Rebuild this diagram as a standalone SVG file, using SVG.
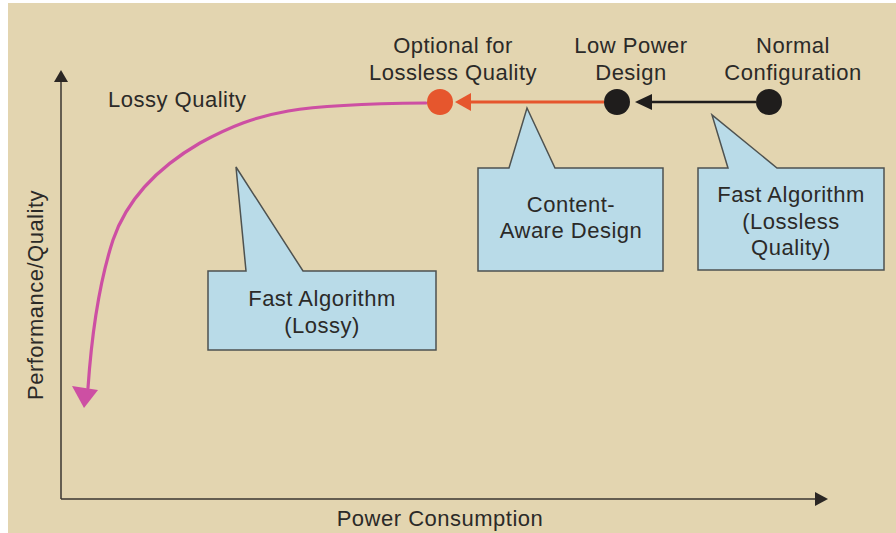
<svg xmlns="http://www.w3.org/2000/svg" width="896" height="533" viewBox="0 0 896 533">
  <style>
    text { font-family: "Liberation Sans", Arial, sans-serif; font-size: 22px; fill: #2b2a28; letter-spacing: 0.5px; }
    .mid { text-anchor: middle; }
    .callout { fill: #b9dbe8; stroke: #4e5250; stroke-width: 1.5; stroke-linejoin: miter; }
    .axis { stroke: #3a3530; stroke-width: 1.5; fill: none; }
  </style>

  <!-- page -->
  <rect x="0" y="0" width="896" height="533" fill="#ffffff"/>
  <rect x="8" y="3" width="888" height="530" fill="#e3d5b0"/>

  <!-- axes -->
  <g id="axes">
    <path class="axis" d="M61,499 L61,82"/>
    <path d="M54,82 L61,70 L68,82 Z" fill="#2b2724"/>
    <path class="axis" d="M61,499 L816,499"/>
    <path d="M815,492 L828,499 L815,506 Z" fill="#2b2724"/>
    <text class="mid" x="440" y="526">Power Consumption</text>
    <text class="mid" transform="translate(43,295) rotate(-90)">Performance/Quality</text>
  </g>

  <!-- connectors -->
  <g id="connectors">
    <!-- lossy quality curve -->
    <path d="M426,103 C300,104 260,110 200,143 C150,172 125,205 113,240 C100,280 92,330 88,388" fill="none" stroke="#cd4fa3" stroke-width="3.2" stroke-linecap="round"/>
    <path d="M72,386 L98,390 L84,408 Z" fill="#cd4fa3"/>
    <!-- content-aware step -->
    <line x1="604" y1="102" x2="469" y2="102" stroke="#e6562d" stroke-width="3"/>
    <path d="M471,93 L455,102 L471,111 Z" fill="#e6562d"/>
    <!-- fast lossless step -->
    <line x1="756" y1="102" x2="650" y2="102" stroke="#1f1d1c" stroke-width="2.5"/>
    <path d="M652,94 L635,102 L652,110 Z" fill="#1f1d1c"/>
  </g>

  <!-- operating points -->
  <g id="node-optional">
    <circle cx="440" cy="102" r="13" fill="#e6562d"/>
    <text class="mid" x="453" y="53">Optional for</text>
    <text class="mid" x="453" y="80">Lossless Quality</text>
  </g>
  <g id="node-lowpower">
    <circle cx="617" cy="102" r="13" fill="#1f1d1c"/>
    <text class="mid" x="631" y="53">Low Power</text>
    <text class="mid" x="631" y="80">Design</text>
  </g>
  <g id="node-normal">
    <circle cx="769" cy="102" r="13" fill="#1f1d1c"/>
    <text class="mid" x="793" y="53">Normal</text>
    <text class="mid" x="793" y="80">Configuration</text>
  </g>
  <g id="label-lossy-quality">
    <text x="108" y="107">Lossy Quality</text>
  </g>

  <!-- callouts -->
  <g id="callout-fast-lossy">
    <path class="callout" d="M208,271 L246,271 L236,167 L303,271 L436,271 L436,350 L208,350 Z"/>
    <text class="mid" x="322" y="306">Fast Algorithm</text>
    <text class="mid" x="322" y="333">(Lossy)</text>
  </g>
  <g id="callout-content-aware">
    <path class="callout" d="M478,168 L509,168 L527,108 L555,168 L663,168 L663,271 L478,271 Z"/>
    <text class="mid" x="571" y="212">Content-</text>
    <text class="mid" x="571" y="238">Aware Design</text>
  </g>
  <g id="callout-fast-lossless">
    <path class="callout" d="M698,168 L728,168 L712,115 L777,168 L884,168 L884,270 L698,270 Z"/>
    <text class="mid" x="791" y="202">Fast Algorithm</text>
    <text class="mid" x="791" y="229">(Lossless</text>
    <text class="mid" x="791" y="255">Quality)</text>
  </g>
</svg>
